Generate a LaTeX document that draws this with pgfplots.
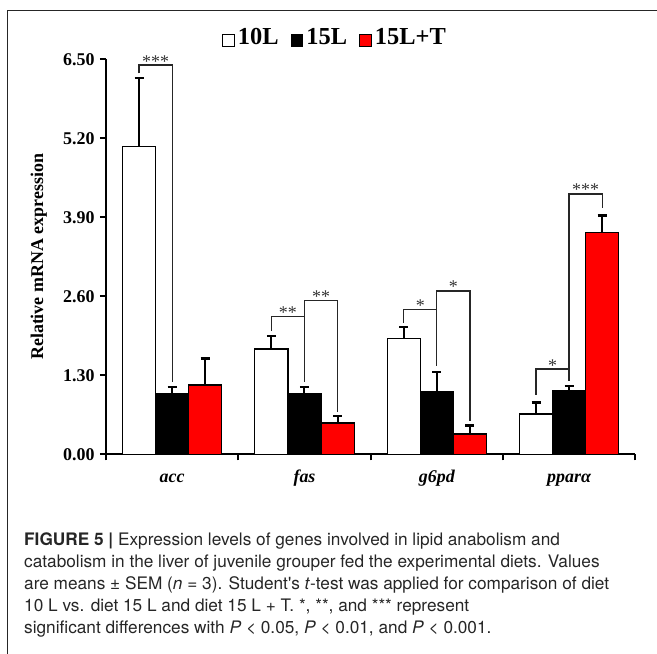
\documentclass[border=0pt]{standalone}
\usepackage{fontspec}
\setmainfont{Liberation Serif}
\newfontfamily\capfont{TeX Gyre Heros}
\usepackage{pgfplots}
\pgfplotsset{compat=1.18}
\definecolor{barred}{RGB}{255,0,0}
\begin{document}
\begin{tikzpicture}
\useasboundingbox (0bp,0bp) rectangle (657bp,654bp);
\draw[line width=1.2bp, black!85] (7.5bp,0bp) -- (7.5bp,643.3bp) -- (657bp,643.3bp);
\begin{axis}[
  at={(106bp,199.5bp)}, anchor=south west,
  width=529.3bp, height=395.2bp, scale only axis,
  xmin=-0.5, xmax=3.5, ymin=0, ymax=6.5,
  axis lines*=left,
  axis line style={line width=2bp, black},
  tick align=outside,
  major tick length=6bp,
  tick style={line width=2bp, black},
  ytick={0,1.3,2.6,3.9,5.2,6.5},
  yticklabel style={/pgf/number format/.cd, fixed, fixed zerofill, precision=2, /tikz/.cd, font=\fontsize{18}{20}\selectfont\bfseries, xshift=-2bp},
  /pgf/number format/assume math mode=true,
  xtick={-0.5,0.5,1.5,2.5,3.5},
  xticklabels={},
  extra x ticks={0,1,2,3},
  extra x tick labels={acc,fas,g6pd,pparα},
  extra x tick style={major tick length=0pt, tick style={draw=none}},
  xticklabel style={font=\fontsize{18}{20}\selectfont\bfseries\itshape, anchor=base, yshift=-28bp},
  ylabel={Relative mRNA expression},
  ylabel style={at={(axis description cs:-0.1271,0.5)}, anchor=center, font=\fontsize{18}{20}\selectfont\bfseries},
  legend columns=3,
  legend style={at={(0.4317,1.055)}, anchor=center, draw=none, fill=none,
    font=\fontsize{24.5}{26}\selectfont\bfseries, inner sep=0pt,
    nodes={inner sep=1bp},
    /tikz/every odd column/.append style={column sep=2.5bp},
    /tikz/every even column/.append style={column sep=11bp}},
  legend image code/.code={\draw[#1,/tikz/.cd,draw=black,line width=0.8bp] (0bp,-8.5bp) rectangle (11.5bp,3bp);},
  clip=false,
]
\addplot[ybar, bar width=0.25, bar shift=0pt, fill=white, draw=black, line width=1.2bp,
  error bars/.cd, y dir=plus, y explicit,
  error bar style={line width=2bp, black},
  error mark options={rotate=90, line width=2.5bp, mark size=4.5bp, black}]
  coordinates {(-0.25,5.07) +- (0,1.12) (0.75,1.735) +- (0,0.215) (1.75,1.91) +- (0,0.185) (2.75,0.666) +- (0,0.19)};
\addplot[ybar, bar width=0.25, bar shift=0pt, fill=black, draw=black, line width=1.2bp,
  error bars/.cd, y dir=plus, y explicit,
  error bar style={line width=2bp, black},
  error mark options={rotate=90, line width=2.5bp, mark size=4.5bp, black}]
  coordinates {(0,1.00) +- (0,0.11) (1,1.00) +- (0,0.11) (2,1.028) +- (0,0.33) (3,1.05) +- (0,0.077)};
\addplot[ybar, bar width=0.25, bar shift=0pt, fill=barred, draw=black, line width=1.2bp,
  error bars/.cd, y dir=plus, y explicit,
  error bar style={line width=2bp, black},
  error mark options={rotate=90, line width=2.5bp, mark size=4.5bp, black}]
  coordinates {(0.25,1.143) +- (0,0.44) (1.25,0.518) +- (0,0.115) (2.25,0.337) +- (0,0.137) (3.25,3.648) +- (0,0.28)};
\legend{10L,15L,15L+T}
% significance brackets
\addplot[black!85, line width=1.3bp, forget plot] coordinates {(-0.25,6.27) (-0.25,6.406) (0,6.406) (0,1.19)};
\addplot[black!85, line width=1.3bp, forget plot] coordinates {(0.75,2.03) (0.75,2.27) (1,2.27) (1,1.19)};
\addplot[black!85, line width=1.3bp, forget plot] coordinates {(1,2.27) (1,2.53) (1.25,2.53) (1.25,0.70)};
\addplot[black!85, line width=1.3bp, forget plot] coordinates {(1.75,2.16) (1.75,2.39) (2,2.39) (2,1.455)};
\addplot[black!85, line width=1.3bp, forget plot] coordinates {(2,2.39) (2,2.69) (2.25,2.69) (2.25,0.556)};
\addplot[black!85, line width=1.3bp, forget plot] coordinates {(2.75,0.98) (2.75,1.406) (3,1.406) (3,1.21)};
\addplot[black!85, line width=1.3bp, forget plot] coordinates {(3,1.21) (3,4.285) (3.25,4.285) (3.25,4.05)};
\begin{scope}[every node/.style={font=\fontsize{18}{20}\selectfont, text=black!80, anchor=base, yshift=-2bp, inner sep=0pt}]
\node at (axis cs:-0.125,6.406) {***};
\node at (axis cs:0.875,2.27) {**};
\node at (axis cs:1.125,2.53) {**};
\node at (axis cs:1.875,2.39) {*};
\node at (axis cs:2.125,2.69) {*};
\node at (axis cs:2.875,1.406) {*};
\node at (axis cs:3.125,4.285) {***};
\end{scope}
\end{axis}
\node[anchor=north west, align=left, inner sep=0pt, text=black!85,
  font=\capfont\fontsize{17.3}{22}\selectfont] at (24bp,121bp) {%
\textbf{FIGURE 5 |} Expression levels of genes involved in lipid anabolism and\\
catabolism in the liver of juvenile grouper fed the experimental diets. Values\\
are means ± SEM (\textit{n} = 3). Student's \textit{t}-test was applied for comparison of diet\\
10 L vs. diet 15 L and diet 15 L + T. *, **, and *** represent\\
significant differences with \textit{P} < 0.05, \textit{P} < 0.01, and \textit{P} < 0.001.};
\end{tikzpicture}
\end{document}
